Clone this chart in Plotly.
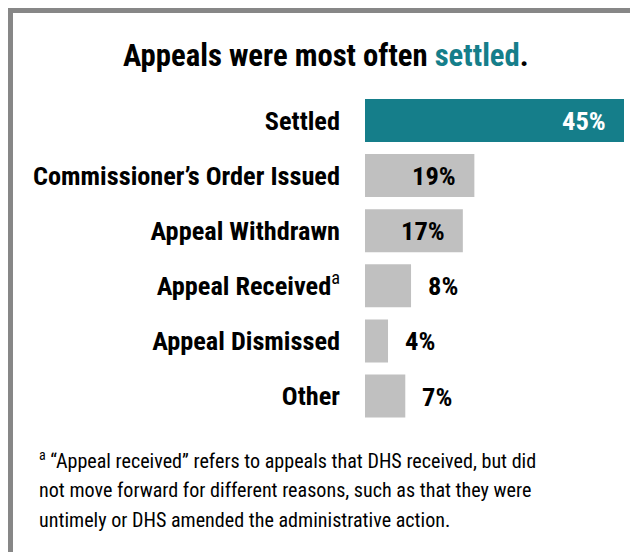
import plotly.graph_objects as go

# ---- data ----
categories = ["Settled", "Commissioner’s Order Issued", "Appeal Withdrawn",
              "Appeal Received", "Appeal Dismissed", "Other"]
tick_labels = ["Settled", "Commissioner’s Order Issued", "Appeal Withdrawn",
               "Appeal Received<span style='font-weight:normal'><sup>a</sup></span>",
               "Appeal Dismissed", "Other"]
values = [45, 19, 17, 8, 4, 7]
value_labels = ["45%", "19%", "17%", "8%", "4%", "7%"]
highlight = ["Settled"]

title_text = "Appeals were most often <span style='color:#157E8A'>settled</span>."
footnote_lines = [
    "<sup>a</sup> “Appeal received” refers to appeals that DHS received, but did",
    "not move forward for different reasons, such as that they were",
    "untimely or DHS amended the administrative action.",
]

# ---- style ----
# page body has an 8px margin: figure is placed at (8, 8) in the window
OFF = 8
W, H = 638 - OFF, 552 - OFF
FONT = "Roboto Condensed, Liberation Sans Narrow, Arial Narrow, sans-serif"
TEAL = "#157E8A"
GREY = "#C0C0C0"
BORDER = "#878787"


def px(x):  # window x -> paper x
    return (x - OFF) / W


def py(y):  # window y -> paper y
    return 1 - (y - OFF) / H


px_per_unit = 259 / 45.0
plot_left = 365
x_max = (638 - plot_left) / px_per_unit

row_h = 55.1
top_y = 120.5 - row_h / 2
bot_y = top_y + 6 * row_h

colors = [TEAL if c in highlight else GREY for c in categories]

fig = go.Figure(go.Bar(
    x=values, y=categories, orientation="h",
    marker=dict(color=colors, line=dict(width=0)),
    width=0.78, hoverinfo="skip",
))

annotations = []
for c, v, lab in zip(categories, values, value_labels):
    inside = v >= 10
    annotations.append(dict(
        x=v, y=c, xref="x", yref="y", text=f"<b>{lab}</b>", showarrow=False,
        xanchor="right" if inside else "left", xshift=-16 if inside else 15,
        font=dict(family=FONT, size=26.5, color="white" if c in highlight else "black"),
    ))

annotations.append(dict(
    x=px(325.5), y=py(55.5), xref="paper", yref="paper", text=f"<b>{title_text}</b>",
    showarrow=False, xanchor="center", yanchor="middle",
    font=dict(family=FONT, size=30.7, color="black"),
))

for i, line in enumerate(footnote_lines):
    annotations.append(dict(
        x=px(37), y=py(460 + 30 * i), xref="paper", yref="paper", text=line,
        showarrow=False, xanchor="left", yanchor="middle", align="left",
        font=dict(family=FONT, size=20.1, color="black"),
    ))

shapes = [
    dict(type="rect", xref="paper", yref="paper", x0=0, x1=px(13), y0=0, y1=1,
         fillcolor=BORDER, line=dict(width=0), layer="above"),
    dict(type="rect", xref="paper", yref="paper", x0=0, x1=1, y0=py(13), y1=1,
         fillcolor=BORDER, line=dict(width=0), layer="above"),
]

fig.update_layout(
    width=W, height=H,
    margin=dict(l=0, r=0, t=0, b=0, pad=0),
    paper_bgcolor="white", plot_bgcolor="white",
    showlegend=False,
    xaxis=dict(domain=[px(plot_left), 1], range=[0, x_max], visible=False,
               fixedrange=True, automargin=False),
    yaxis=dict(
        domain=[py(bot_y), py(top_y)],
        categoryorder="array", categoryarray=categories, autorange="reversed",
        tickmode="array", tickvals=categories, ticktext=[f"<b>{t}</b>" for t in tick_labels],
        tickfont=dict(family=FONT, size=26.3, color="black"),
        ticks="", showline=False, showgrid=False, zeroline=False,
        ticklabelstandoff=24, fixedrange=True, automargin=False,
    ),
    annotations=annotations,
    shapes=shapes,
)

fig.write_html("out.html")
